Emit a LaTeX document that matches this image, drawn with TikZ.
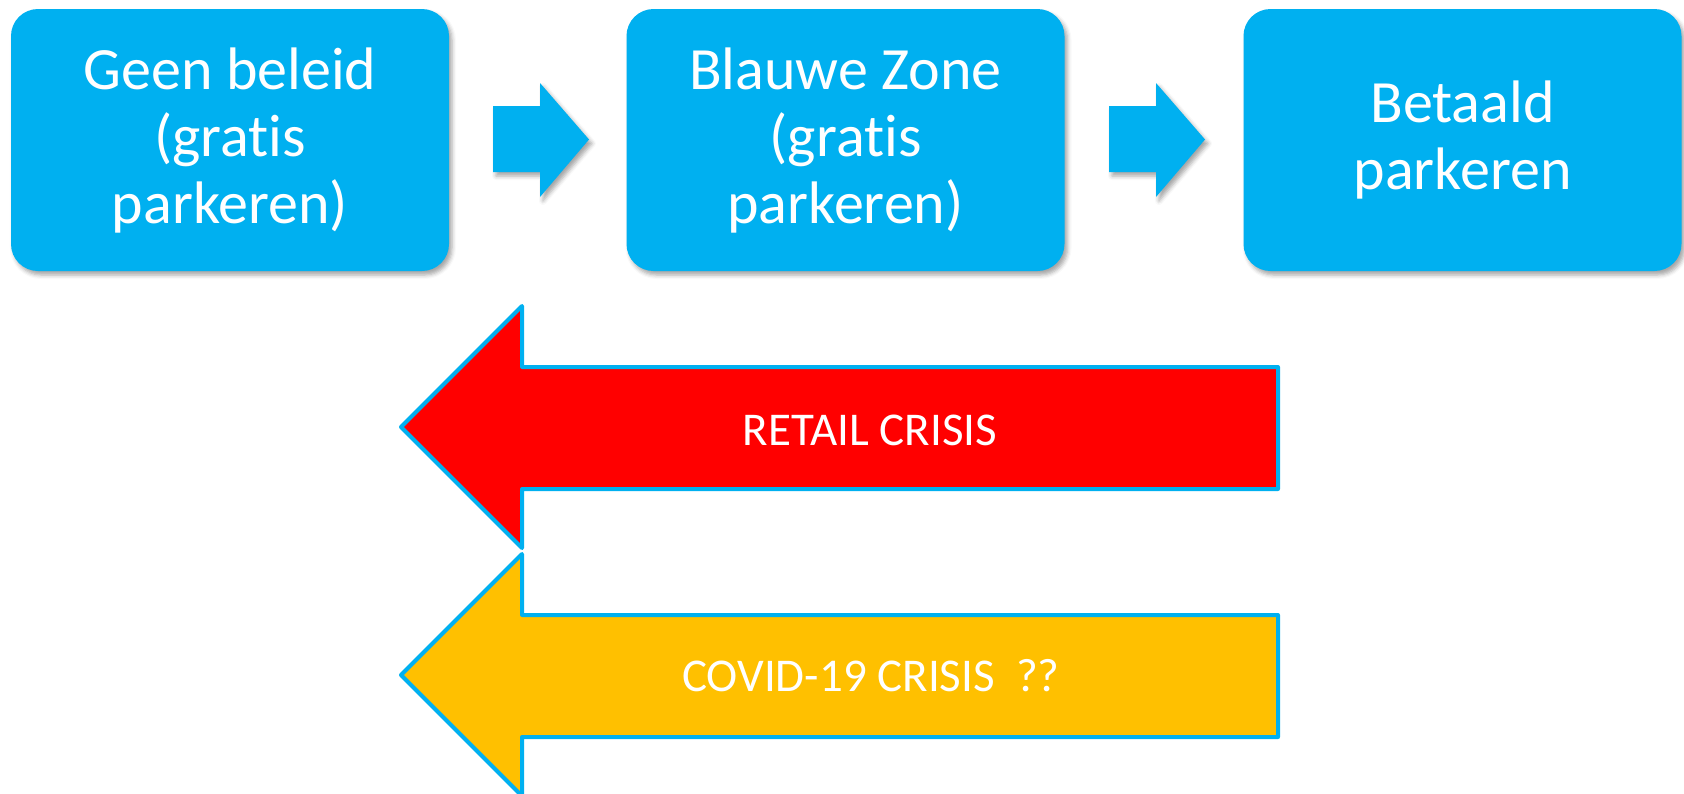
\documentclass[tikz,border=0pt]{standalone}
\usepackage{fontspec}
\setmainfont[Ligatures=NoCommon]{Carlito}
\usetikzlibrary{shadows.blur}
\definecolor{zoneblauw}{RGB}{0,176,240}
\definecolor{crisisrood}{RGB}{255,0,0}
\definecolor{crisisgeel}{RGB}{255,192,0}
\tikzstyle{schaduw} = [blur shadow={shadow xshift=3pt, shadow yshift=-4pt, shadow blur radius=4pt, shadow opacity=35}]
\tikzstyle{stap} = [rounded corners=27pt, fill=zoneblauw, text=white, minimum width=438pt, minimum height=262pt, inner sep=0pt, align=center, font=\fontsize{60}{67}\selectfont, schaduw]
\tikzstyle{pijl} = [fill=zoneblauw, schaduw]
\tikzstyle{crisis} = [draw=zoneblauw, line width=4pt, line join=round]
\tikzstyle{crisistekst} = [text=white, font=\fontsize{47}{56}\selectfont]
\newcommand{\stappijl}[1]{\fill[pijl] (#1,106) -- ++(47,0) -- ++(0,-23) -- ++(49,56.5) -- ++(-49,57.5) -- ++(0,-25) -- ++(-47,0) -- cycle;}

\begin{document}
\begin{tikzpicture}[x=1pt,y=-1pt]
	\useasboundingbox (0,0) rectangle (1684,793);
	\node[stap](geen) at (230,140){Geen beleid\\(gratis\\parkeren)};
	\node[stap](blauw) at (845.5,140){Blauwe Zone\\(gratis\\parkeren)};
	\node[stap](betaald) at (1462.5,140){Betaald\\parkeren};
	
	\stappijl{493}
	\stappijl{1109}
	
	\draw[crisis, fill=crisisrood] (401,427) -- (522,306) -- (522,367) -- (1278,367) -- (1278,489) -- (522,489) -- (522,548) -- cycle;
	\node[crisistekst](retail) at (870,430){RETAIL CRISIS};
	
	\draw[crisis, fill=crisisgeel] (401,675) -- (522,554) -- (522,615) -- (1278,615) -- (1278,737) -- (522,737) -- (522,796) -- cycle;
	\node[crisistekst](covid) at (871,676){COVID-19 CRISIS~~??};
\end{tikzpicture}
\end{document}
